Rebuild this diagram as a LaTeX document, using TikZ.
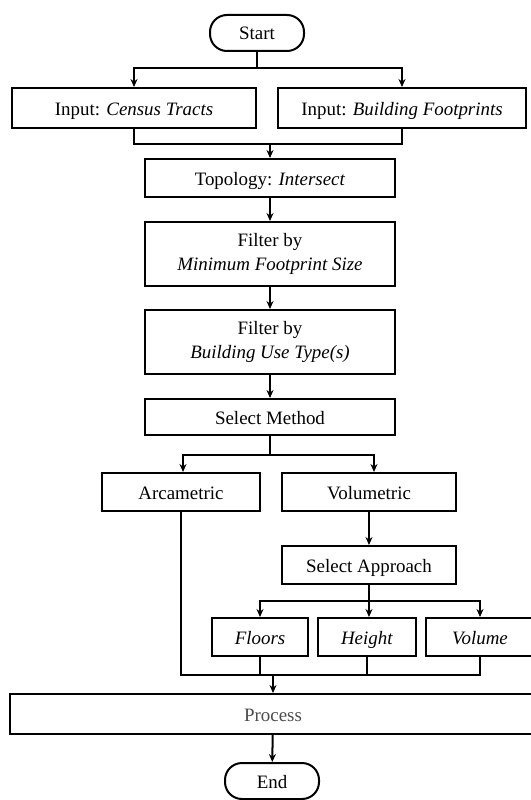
\documentclass[tikz,border=0pt]{standalone}
\usepackage{fontspec}
\setmainfont{Liberation Serif}
\usetikzlibrary{arrows.meta}
\begin{document}
\begin{tikzpicture}[x=1bp,y=-1bp, line width=2bp,
  box/.style={draw, rectangle, inner sep=0pt, align=center, font=\fontsize{19}{23.5}\selectfont},
  one/.style={box, text height=15bp, text depth=1bp},
  term/.style={one, rounded corners=17bp},
  arr/.style={-{Stealth[length=8bp,width=7bp]}}]
\useasboundingbox (0,0) rectangle (531,800);
\fill[white] (0,0) rectangle (531,800);
\clip (0,0) rectangle (531,800);

\node[term, minimum width=94bp, minimum height=36bp] (start) at (257,33) {Start};
\node[one, minimum width=244bp, minimum height=40bp] (inCT) at (134,108) {Input: \textit{Census Tracts}};
\node[one, minimum width=248bp, minimum height=40bp] (inBF) at (402,108) {Input: \textit{Building Footprints}};
\node[one, minimum width=250bp, minimum height=38bp] (topo) at (270,178) {Topology: \textit{Intersect}};
\node[box, minimum width=250bp, minimum height=64bp] (filt1) at (270,254) {Filter by\\\textit{Minimum Footprint Size}};
\node[box, minimum width=250bp, minimum height=64bp] (filt2) at (270,342) {Filter by\\\textit{Building Use Type(s)}};
\node[one, minimum width=250bp, minimum height=36bp] (selm) at (270,417) {Select Method};
\node[one, minimum width=158bp, minimum height=38bp] (arc) at (181,492) {Arcametric};
\node[one, minimum width=174bp, minimum height=38bp] (vol) at (369,492) {Volumetric};
\node[one, minimum width=174bp, minimum height=38bp] (sela) at (369,565) {Select Approach};
\node[one, minimum width=96bp, minimum height=38bp] (floors) at (260,637) {\textit{Floors}};
\node[one, minimum width=98bp, minimum height=38bp] (height) at (367,637) {\textit{Height}};
\node[one, minimum width=108bp, minimum height=38bp] (volume) at (480,637) {\textit{Volume}};
\node[one, minimum width=526bp, minimum height=40bp, text=black!70] (proc) at (273,714) {Process};
\node[term, minimum width=94bp, minimum height=36bp] (end) at (272,781) {End};

% start to inputs
\coordinate (j1) at (257,68);
\draw (start) -- (j1);
\draw[arr] (j1) -| (inCT);
\draw[arr] (j1) -| (inBF);

% inputs merge to topology
\coordinate (m1) at (270,144);
\draw (inCT) |- (m1);
\draw (inBF) |- (m1);
\draw[arr] (m1) -- (topo);

\draw[arr] (topo) -- (filt1);
\draw[arr] (filt1) -- (filt2);
\draw[arr] (filt2) -- (selm);

% method branch
\coordinate (j2) at (270,455);
\draw (selm) -- (j2);
\draw[arr] (j2) -| (arc.north -| 183,0);
\draw[arr] (j2) -| (vol.north -| 374,0);

\draw[arr] (vol) -- (sela);

% approach branch
\coordinate (j3) at (369,601);
\draw (sela) -- (j3);
\draw[arr] (j3) -| (floors);
\draw[arr] (j3) -- (height.north -| j3);
\draw[arr] (j3) -| (volume);

% merge to process
\coordinate (m2) at (273,675);
\draw (arc) |- (volume.south |- m2) -- (volume);
\draw (floors) -- (floors |- m2);
\draw (height) -- (height |- m2);
\draw[arr] (m2) -- (proc);
\draw[arr] (proc) -- (end);
\end{tikzpicture}
\end{document}
